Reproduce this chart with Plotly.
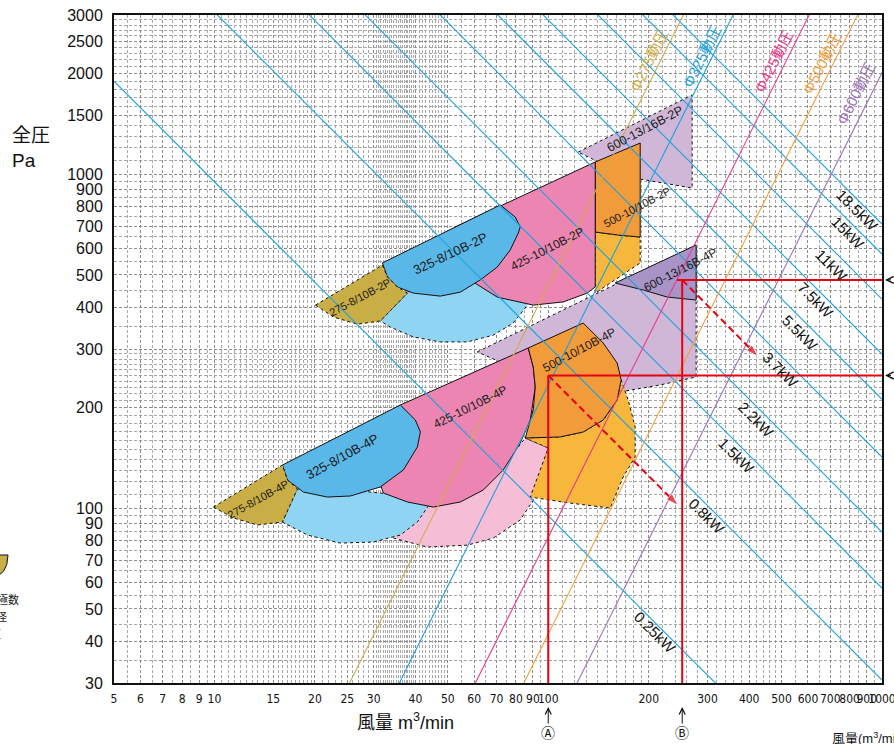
import numpy as np
import plotly.graph_objects as go

FONT = "Liberation Sans, Arial, Noto Sans CJK JP, sans-serif"
NARROW = "Liberation Sans Narrow, DejaVu Sans Condensed, Liberation Sans, sans-serif"

# ---------------- axes ----------------
x_tick_vals = [5, 6, 7, 8, 9, 10, 15, 20, 25, 30, 40, 50, 60, 70, 80, 90, 100,
               200, 300, 400, 500, 600, 700, 800, 900, 1000]
y_tick_vals = [30, 40, 50, 60, 70, 80, 90, 100, 200, 300, 400, 500, 600, 700,
               800, 900, 1000, 1500, 2000, 2500, 3000]
x_grid_minor = ([v / 2 for v in range(10, 40)] + list(range(20, 30)) +
                [v / 2 for v in range(60, 80)] + list(range(40, 50)) +
                list(range(50, 100, 5)) + list(range(100, 200, 10)) +
                list(range(200, 500, 20)) + list(range(500, 1001, 50)))
y_grid_minor = (list(range(30, 100, 5)) + list(range(100, 300, 10)) +
                list(range(300, 1000, 50)) + list(range(1000, 3001, 100)))

# ---------------- power lines (Q*p constant) ----------------
kw_names = ["0.25kW", "0.8kW", "1.5kW", "2.2kW", "3.7kW", "5.5kW", "7.5kW", "11kW", "15kW", "18.5kW"]
kw_qp = [9500, 30600, 57700, 84900, 142400, 212000, 289800, 423000, 577000, 710000]
kw_label_q = [209, 297, 366, 420, 495, 568, 630, 708, 791, 847]
kw_label_p = [42.4, 94.9, 144, 185, 260, 337, 421, 535, 672, 782]

# ---------------- dynamic pressure lines ----------------
dp_names = ["Φ275動圧", "Φ325動圧", "Φ425動圧", "Φ500動圧", "Φ600動圧"]
dp_q_at_30 = [25.4, 35.8, 60.5, 84.5, 122]
dp_q_at_3000 = [254, 358, 605, 845, 1220]
dp_label_q = [200.6, 289, 475, 661, 836]
dp_label_p = [2185, 2246, 2170, 2165, 1741]
dp_colors = ["#d2ad4b", "#1ea2de", "#e83a8c", "#f4a03c", "#9b74b9"]

# ---------------- fan regions (flow m3/min, pressure Pa) ----------------
p4_purple_light_q = [61.29, 277.4, 277.4, 216.4, 170.0, 143.1, 87.11, 71.85]
p4_purple_light_p = [294, 614.5, 247.4, 234.1, 224.6, 234.1, 259.6, 274.3]
p4_purple_dark_q = [158.7, 277.4, 277.4, 227.2, 192.5]
p4_purple_dark_p = [472.8, 614.5, 420.5, 429.3, 450.5]
p4_pink_light_q = [34.35, 43.43, 57.22, 68.47, 82.45, 90.18, 94.63, 100, 85.33, 71.85, 50.88, 36.05]
p4_pink_light_p = [81.5, 76.6, 77.6, 81.5, 92.3, 105.9, 125.9, 151.6, 162.4, 130.3, 105.9, 105.9]
p4_orange_light_q = [85.33, 108.6, 127.3, 146.1, 160.9, 165.4, 173.6, 182.2, 182.2, 167.7, 153.3, 116.4, 88.33, 94.63, 100]
p4_orange_light_p = [162.4, 163.6, 169.3, 183.9, 211.0, 242.3, 211.0, 175.2, 142.5, 124.2, 100.2, 103.7, 108.1, 130.3, 151.6]
p4_blue_light_q = [17.72, 15.98, 18.99, 23.84, 29.92, 36.05, 40.54, 44.34, 36.05, 25.54, 20.77]
p4_blue_light_p = [114.3, 91.0, 83.2, 78.7, 79.3, 83.2, 91.0, 103.7, 109.6, 113.5, 115.1]
p4_pink_q = [36.05, 87.11, 90.18, 91.43, 88.33, 82.45, 73.35, 63.89, 54.52, 45.27, 37.83, 32.06, 30.34, 33.64]
p4_pink_p = [203.9, 302.1, 265.0, 230.9, 183.9, 156.9, 130.3, 113.5, 104.5, 100.9, 104.5, 111.2, 130.3, 183.9]
p4_orange_q = [87.11, 127.3, 146.1, 160.9, 165.4, 160.9, 146.1, 127.3, 108.6, 85.33, 90.18, 91.43, 90.18]
p4_orange_p = [302.1, 358.9, 312.7, 272.4, 242.3, 211.0, 183.9, 169.3, 163.6, 162.4, 197.0, 230.9, 265.0]
p4_blue_q = [15.98, 36.05, 39.98, 41.39, 40.54, 36.80, 31.41, 25.54, 21.80, 18.47, 16.54]
p4_blue_p = [134.8, 203.9, 183.9, 169.3, 152.7, 130.3, 115.9, 108.9, 108.1, 111.9, 121.6]
p4_olive_q = [9.93, 15.98, 16.54, 17.72, 15.98, 13.45, 11.40]
p4_olive_p = [100.9, 134.8, 121.6, 114.3, 91.0, 89.2, 93.6]

p2_purple_q = [123.0, 269.9, 269.9, 221.0, 188.6, 158.7, 138.3]
p2_purple_p = [1166, 1729, 910, 942, 968, 1030, 1104]
p2_orange_light_q = [138.3, 162.0, 188.6, 188.6, 138.3]
p2_orange_light_p = [672, 658, 649, 543, 441]
p2_orange_q = [138.3, 188.6, 188.6, 162.0, 138.3]
p2_orange_p = [1089, 1241, 649, 658, 672]
p2_blue_light_q = [37.83, 31.41, 33.64, 39.43, 47.50, 57.22, 68.47, 78.56, 85.33, 88.33, 62.58, 41.39]
p2_blue_light_p = [441, 364, 349, 326, 315, 315, 330, 359, 398, 420, 517, 483]
p2_pink_q = [52.67, 138.3, 138.3, 130.8, 110.9, 90.18, 70.38, 59.63, 52.67]
p2_pink_p = [696, 1089, 460, 441, 415, 406, 429, 476, 547]
p2_blue_q = [31.84, 71.85, 79.66, 82.45, 81.33, 76.96, 70.38, 62.58, 54.52, 47.50, 39.43, 35.31, 32.96]
p2_blue_p = [543, 810, 745, 696, 667, 594, 528, 483, 444, 432, 441, 460, 493]
p2_olive_q = [20.07, 31.84, 32.96, 35.31, 37.83, 31.41, 26.80, 22.72]
p2_olive_p = [406, 535, 493, 460, 441, 364, 356, 374]

region_names = ["275-8/10B-2P", "325-8/10B-2P", "425-10/10B-2P", "500-10/10B-2P", "600-13/16B-2P",
                "275-8/10B-4P", "325-8/10B-4P", "425-10/10B-4P", "500-10/10B-4P", "600-13/16B-4P"]
region_label_q = [27.36, 50.88, 99.3, 184.7, 195.1, 13.54, 24.16, 58.41, 123.8, 248.5]
region_label_p = [429.3, 581.5, 597.7, 798.5, 1367, 106.7, 143.4, 201.2, 297.9, 517.2]
region_label_angle = [-28, -25.5, -27, -28, -28, -29, -28.7, -26.6, -28, -27.5]
region_label_size = [11, 13, 12, 11, 12.5, 11, 13, 12, 12, 12]

# ---------------- selection example (red) ----------------
sel_a_q, sel_a_p = 100, 250
sel_b_q, sel_b_p, sel_b_hstart = 252, 483, 243
arrow_a_q, arrow_a_p = [100, 245], [250, 102]
arrow_b_q, arrow_b_p = [252, 425], [483, 285]

# ---------------- colours ----------------
C_OLIVE = "#c9ad45"
C_BLUE = "#5ab8e8"
C_BLUE_L = "#90d4f4"
C_PINK = "#ec85b1"
C_PINK_L = "#f6bdd6"
C_ORANGE = "#f29b3a"
C_ORANGE_L = "#f7b63c"
C_PURPLE_L = "#d0b6d7"
C_PURPLE = "#a894c6"
C_KW = "#1ea2de"
C_RED = "#e60012"

fig = go.Figure()


def poly(q, p, color, dash):
    fig.add_trace(go.Scatter(
        x=list(q) + [q[0]], y=list(p) + [p[0]], mode="lines", fill="toself",
        fillcolor=color, line=dict(color="#111111", width=1, dash=dash),
        hoverinfo="skip", showlegend=False))


# back to front
poly(p4_purple_light_q, p4_purple_light_p, C_PURPLE_L, "dot")
poly(p4_purple_dark_q, p4_purple_dark_p, C_PURPLE, "solid")
poly(p4_pink_light_q, p4_pink_light_p, C_PINK_L, "dot")
poly(p4_orange_light_q, p4_orange_light_p, C_ORANGE_L, "dot")
poly(p4_blue_light_q, p4_blue_light_p, C_BLUE_L, "dot")
poly(p4_pink_q, p4_pink_p, C_PINK, "solid")
poly(p4_orange_q, p4_orange_p, C_ORANGE, "solid")
poly(p4_blue_q, p4_blue_p, C_BLUE, "solid")
poly(p4_olive_q, p4_olive_p, C_OLIVE, "dot")
poly(p2_purple_q, p2_purple_p, C_PURPLE_L, "dot")
poly(p2_orange_light_q, p2_orange_light_p, C_ORANGE_L, "dot")
poly(p2_orange_q, p2_orange_p, C_ORANGE, "solid")
poly(p2_blue_light_q, p2_blue_light_p, C_BLUE_L, "dot")
poly(p2_pink_q, p2_pink_p, C_PINK, "solid")
poly(p2_blue_q, p2_blue_p, C_BLUE, "solid")
poly(p2_olive_q, p2_olive_p, C_OLIVE, "dot")

# power lines
for c in kw_qp:
    fig.add_trace(go.Scatter(x=[5, 1000], y=[c / 5, c / 1000], mode="lines",
                             line=dict(color=C_KW, width=1.1), hoverinfo="skip", showlegend=False))
# dynamic pressure lines
for q0, q1, col in zip(dp_q_at_30, dp_q_at_3000, dp_colors):
    fig.add_trace(go.Scatter(x=[q0, q1], y=[30, 3000], mode="lines",
                             line=dict(color=col, width=1.1), hoverinfo="skip", showlegend=False))

# red selection lines
red = dict(color=C_RED, width=2)
fig.add_trace(go.Scatter(x=[sel_a_q, sel_a_q], y=[30, sel_a_p], mode="lines", line=red, hoverinfo="skip", showlegend=False))
fig.add_trace(go.Scatter(x=[sel_a_q, 1000], y=[sel_a_p, sel_a_p], mode="lines", line=red, hoverinfo="skip", showlegend=False))
fig.add_trace(go.Scatter(x=[sel_b_q, sel_b_q], y=[30, sel_b_p], mode="lines", line=red, hoverinfo="skip", showlegend=False))
fig.add_trace(go.Scatter(x=[sel_b_hstart, 1000], y=[sel_b_p, sel_b_p], mode="lines", line=red, hoverinfo="skip", showlegend=False))
for aq, ap in [(arrow_a_q, arrow_a_p), (arrow_b_q, arrow_b_p)]:
    fig.add_trace(go.Scatter(x=aq, y=ap, mode="lines+markers",
                             line=dict(color=C_RED, width=2, dash="7px,4px"),
                             marker=dict(symbol="arrow", size=[0, 13], color=C_RED, angleref="previous"),
                             hoverinfo="skip", showlegend=False))

ann = []
for t, q, p in zip(kw_names, kw_label_q, kw_label_p):
    ann.append(dict(x=np.log10(q), y=np.log10(p), xref="x", yref="y", text=t, showarrow=False,
                    textangle=45, font=dict(size=15, color="#111111", family=FONT)))
for t, q, p, col in zip(dp_names, dp_label_q, dp_label_p, dp_colors):
    ann.append(dict(x=np.log10(q), y=np.log10(p), xref="x", yref="y", text=t, showarrow=False,
                    textangle=-63.4, font=dict(size=15, color=col, family=FONT)))
for t, q, p, a, s in zip(region_names, region_label_q, region_label_p, region_label_angle, region_label_size):
    ann.append(dict(x=np.log10(q), y=np.log10(p), xref="x", yref="y", text=t, showarrow=False,
                    textangle=a, font=dict(size=s, color="#1a1a1a", family=FONT)))

# axis titles
ann.append(dict(x=0.379, y=-0.058, xref="paper", yref="paper", text="風量 m<sup>3</sup>/min",
                xanchor="center", yanchor="middle",
                showarrow=False, font=dict(size=18, color="#111111", family=FONT)))
ann.append(dict(x=-0.135, y=0.801, xref="paper", yref="paper", text="全圧<br>Pa", align="left",
                xanchor="left", yanchor="middle", showarrow=False,
                font=dict(size=19, color="#111111", family=FONT)))
ann.append(dict(x=0.932, y=-0.0823, xref="paper", yref="paper", text="風量(m<sup>3</sup>/min)",
                xanchor="left", yanchor="middle", showarrow=False,
                font=dict(size=13, color="#111111", family=FONT)))
# markers A / B
for q, t in [(sel_a_q, "Ⓐ"), (sel_b_q, "Ⓑ")]:
    ann.append(dict(x=np.log10(q), y=-0.036, xref="x", yref="paper", text=t, showarrow=True,
                    ax=0, ay=26, arrowhead=5, arrowsize=1.2, arrowwidth=1, arrowcolor="#111111",
                    font=dict(size=14, color="#111111", family=FONT)))
# right edge pointers
for p in [sel_b_p, sel_a_p]:
    ann.append(dict(x=1.004, y=np.log10(p), xref="paper", yref="y", text=" ", showarrow=True,
                    ax=25, ay=0, arrowhead=5, arrowsize=1.4, arrowwidth=1, arrowcolor="#111111"))
# cropped legend fragments at the left edge
ann.append(dict(x=-0.1211, y=0.1257, xref="paper", yref="paper", text="羽根極数", xanchor="right",
                yanchor="middle", showarrow=False, font=dict(size=11, color="#222222", family=FONT)))
ann.append(dict(x=-0.1367, y=0.0988, xref="paper", yref="paper", text="羽根径", xanchor="right",
                yanchor="middle", showarrow=False, font=dict(size=11, color="#222222", family=FONT)))
ann.append(dict(x=-0.1445, y=0.0748, xref="paper", yref="paper", text="動圧", xanchor="right",
                yanchor="middle", showarrow=False, font=dict(size=11, color="#222222", family=FONT)))

shapes = [dict(type="path", xref="paper", yref="paper",
               path="M -0.16,0.1916 L -0.1380,0.1916 Q -0.1385,0.160 -0.16,0.1580 Z",
               fillcolor=C_OLIVE, line=dict(color="#111111", width=1))]

axis_common = dict(type="log", showline=True, linecolor="#111111", linewidth=2, mirror=True,
                   showgrid=True, gridcolor="#8c8c8c", gridwidth=1, griddash="3px,2px",
                   zeroline=False, ticks="", tickmode="array", automargin=False,
                   ticklabeloverflow="allow")

fig.update_layout(
    width=894, height=744,
    margin=dict(l=114, r=12, t=15, b=61, autoexpand=False),
    paper_bgcolor="white", plot_bgcolor="white",
    font=dict(family=FONT, color="#111111"),
    showlegend=False,
    annotations=ann,
    shapes=shapes,
    xaxis=dict(axis_common, range=[np.log10(5), np.log10(1000)], tickvals=x_tick_vals,
               ticktext=[str(v) for v in x_tick_vals], tickangle=0,
               tickfont=dict(size=12, family=NARROW, color="#111111"),
               ticklabelstandoff=4,
               minor=dict(tickmode="array", tickvals=x_grid_minor, showgrid=True,
                          gridcolor="#a8a8a8", griddash="3px,2px", gridwidth=1, ticks="")),
    yaxis=dict(axis_common, range=[np.log10(30), np.log10(3000)], tickvals=y_tick_vals,
               ticktext=[str(v) for v in y_tick_vals],
               tickfont=dict(size=16, family=FONT, color="#111111"), ticklabelstandoff=6,
               minor=dict(tickmode="array", tickvals=y_grid_minor, showgrid=True,
                          gridcolor="#a8a8a8", griddash="3px,2px", gridwidth=1, ticks="")),
)

fig.write_html("out.html", config={"displayModeBar": False},
               post_script="document.body.style.margin='0';document.body.style.overflow='hidden';")
